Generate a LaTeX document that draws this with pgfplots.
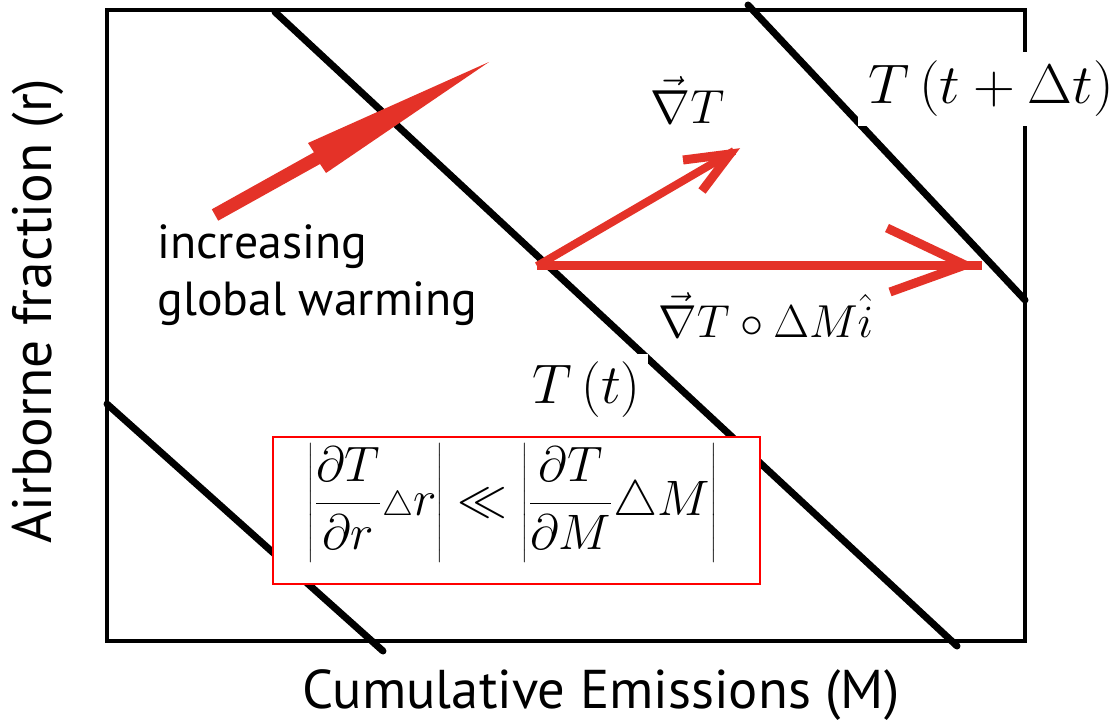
\documentclass[border=0pt]{standalone}
\usepackage[no-math]{fontspec}
\newfontfamily\labelfont{PT Sans}
\usepackage{graphicx}
\usepackage{pgfplots}
\pgfplotsset{compat=1.18}
% let the Computer Modern maths fonts scale to any size
\DeclareFontShape{OT1}{cmr}{m}{n}{<-6>cmr5<6-8>cmr7<8-11>cmr10<11-15>cmr12<15->cmr17}{}
\DeclareFontShape{OML}{cmm}{m}{it}{<-6>cmmi5<6-8>cmmi7<8-11>cmmi10<11->cmmi12}{}
\DeclareFontShape{OMS}{cmsy}{m}{n}{<-6>cmsy5<6-8>cmsy7<8->cmsy10}{}
\definecolor{warmred}{RGB}{228,50,40}

\begin{document}
\begin{tikzpicture}
\begin{axis}[
  scale only axis, width=459bp, height=315.5bp,
  xmin=107, xmax=1025, ymin=10, ymax=641, y dir=reverse,
  xtick=\empty, ytick=\empty,
  axis line style={line width=2.25bp, line cap=rect},
  clip=false,
]
% isotherms T = const
\addplot[black, line width=3.5bp, line cap=round] coordinates {(107,404) (383,651)};
\addplot[black, line width=3.5bp, line cap=round] coordinates {(275,12) (957,646)};
\addplot[black, line width=3.5bp, line cap=round] coordinates {(748,5) (1025,300)};

% direction of increasing warming
\addplot[fill=warmred, draw=none] coordinates {(211.8,209.3) (314,152.3) (308,143) (489,62) (326,173) (320,164) (218.2,220.7)} -- cycle;

% gradient vector
\addplot[warmred, line width=4bp] coordinates {(537,266) (734,151)};
\addplot[warmred, line width=4.5bp, line join=miter] coordinates {(683,160) (730,154) (702,191)};

% projection on the emissions axis
\addplot[warmred, line width=4.5bp] coordinates {(537,265) (982,265)};
\addplot[warmred, line width=4.5bp, line join=miter] coordinates {(887,228) (965,265) (890,292)};

% labels
\node[anchor=base west, inner sep=0pt] at (650,123) {\fontsize{24}{28}\selectfont$\vec{\nabla}T$};
\node[anchor=base west, fill=white, inner xsep=5bp, inner ysep=4.5bp] at (858,103)
  {\fontsize{28}{33}\selectfont\scalebox{1.04}[1]{$T\left(t+\Delta t\right)$}};
\node[anchor=base west, fill=white, inner sep=3bp] at (652,337) {\fontsize{23.2}{27}\selectfont$\vec{\nabla}T\circ\Delta M\hat{i}$};
\node[anchor=base west, fill=white, inner xsep=3.5bp, inner ysep=3.5bp] at (525,403)
  {\fontsize{28}{33}\selectfont$T\left(t\right)$};
\node[fill=white, draw=red, line width=0.75bp, minimum width=243.5bp, minimum height=73.5bp, inner sep=0pt] at (516.5,510.5) {};
\node[inner sep=0pt] at (512,503)
  {\fontsize{25}{30}\selectfont\delimiterfactor=1001 \delimitershortfall=0pt
   $\displaystyle \left|\rule[-21.25bp]{0pt}{55bp}\frac{\partial T}{\partial r}{\scriptstyle\triangle} r\right| \ll \left|\rule[-21.25bp]{0pt}{55bp}\frac{\partial T}{\partial M}\triangle M\right|$};
\node[anchor=base west, inner sep=0pt] at (157,258) {\labelfont\fontsize{24}{28}\selectfont increasing};
\node[anchor=base west, inner sep=0pt] at (157,315) {\labelfont\fontsize{24}{28}\selectfont global warming};

% axis titles
\node[anchor=base, inner sep=0pt] at (601,708) {\labelfont\fontsize{27.4}{32}\selectfont Cumulative Emissions (M)};
\node[anchor=base, rotate=90, inner sep=0pt] at (52,311) {\labelfont\fontsize{27.8}{32}\selectfont Airborne fraction (r)};
\end{axis}
\pgfresetboundingbox
\path[use as bounding box] (current axis.south west) ++(-53.5bp,-40bp) rectangle ++(557.5bp,360.5bp);
\end{tikzpicture}
\end{document}
